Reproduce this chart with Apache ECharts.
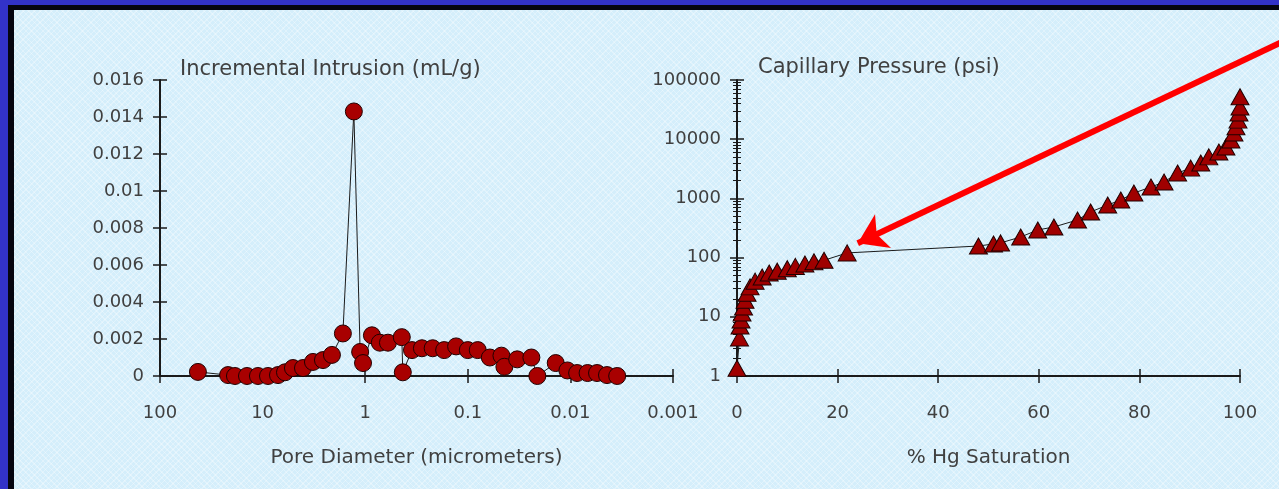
<!DOCTYPE html>
<html>
<head>
<meta charset="utf-8">
<script src="https://cdn.jsdelivr.net/npm/echarts@6/dist/echarts.min.js"></script>
<style>
	html, body { margin: 0; padding: 0; width: 1279px; height: 489px; overflow: hidden; background: #3232c8; }
	#frame {
		position: absolute; left: 8px; top: 5px; width: 1280px; height: 490px;
		box-sizing: border-box;
		border-left: 6px solid #050510; border-top: 5px solid #050510;
		background-color: #d4eefb;
		background-image:
			repeating-linear-gradient(45deg, rgba(255,255,255,0.3) 0 1px, transparent 1px 4px),
			repeating-linear-gradient(-45deg, rgba(255,255,255,0.3) 0 1px, transparent 1px 4px);
	}
	#main { position: absolute; left: 0; top: 0; width: 1279px; height: 489px; }
</style>
</head>
<body>
<div id="frame"></div>
<div id="main"></div>
<script>
	// 孔径分布 (左图)
	var poreDiameter = [42.7, 21.7, 18.6, 14.2, 11.1, 8.86, 7.08, 6.05, 5.06, 4.04, 3.23, 2.58, 2.11, 1.65,
		1.29, 1.12, 1.05, 0.86, 0.72, 0.60, 0.44, 0.43, 0.35, 0.28, 0.22, 0.17, 0.13, 0.10, 0.08,
		0.061, 0.047, 0.044, 0.033, 0.024, 0.021, 0.0139, 0.0107, 0.0086, 0.0068, 0.0055, 0.0044, 0.0035]
	var incrementalIntrusion = [0.00022, 0.00005, 0, 0, 0, 0, 0.00005, 0.0002, 0.00043, 0.00043, 0.00076,
		0.00086, 0.00114, 0.0023, 0.0143, 0.0013, 0.0007, 0.0022, 0.0018, 0.0018, 0.0021, 0.0002, 0.0014,
		0.0015, 0.0015, 0.0014, 0.0016, 0.0014, 0.0014, 0.001, 0.0011, 0.0005, 0.0009, 0.001, 0, 0.0007,
		0.0003, 0.00016, 0.00016, 0.00016, 0.00005, 0]

	// 毛管压力曲线 (右图)
	var hgSaturation = [0, 0.5, 0.6, 0.8, 1.0, 1.3, 1.6, 2.0, 2.6, 3.6, 5.0, 6.4, 8.0, 10, 11.6, 13.5, 15.3,
		17.3, 21.9, 48, 51, 52.4, 56.4, 59.8, 63, 67.7, 70.3, 73.7, 76.3, 78.9, 82.3, 84.9, 87.6, 90.2,
		92.2, 93.8, 95.8, 97.2, 98.2, 98.8, 99.2, 99.6, 99.8, 100, 100]
	var capillaryPressure = [1.35, 4.4, 7, 8.8, 11.6, 14.6, 19, 25, 32, 40, 47, 55, 59, 65, 71, 78, 85,
		90, 120, 157, 170, 177, 223, 293, 329, 432, 590, 774, 940, 1232, 1555, 1893, 2690, 3250,
		3970, 5030, 6070, 7390, 9700, 12700, 16200, 21000, 27700, 35000, 52000]

	// 箭头指向的点
	var arrowTarget = [24, 175]

	var box = document.getElementById('main')
	var myChart = echarts.init(box)

	var textColor = '#404040'
	var font = 'DejaVu Sans, sans-serif'
	var lineColor = '#1a1a1a'

	var leftData = poreDiameter.map(function(d, i) { return [d, incrementalIntrusion[i]] })
	var rightData = hgSaturation.map(function(s, i) { return [s, capillaryPressure[i]] })

	var logLabel = function(v) { return String(+(+v).toPrecision(3)) }

	// 主坐标轴: 轴线 + 向外刻度 + 标签
	function mainAxis(extra, labelMargin, formatter) {
		var a = {
			axisLine: { show: true, lineStyle: { color: lineColor, width: 2 } },
			axisTick: { show: true, inside: false, length: 7, lineStyle: { color: lineColor, width: 1.5 } },
			axisLabel: { color: textColor, fontFamily: font, fontSize: 18, margin: labelMargin },
			splitLine: { show: false },
			nameTextStyle: { color: textColor, fontFamily: font, fontSize: 20 }
		}
		if (formatter) a.axisLabel.formatter = formatter
		return Object.assign(a, extra)
	}
	// 副坐标轴: 只画向内刻度, 让刻度穿过轴线
	function tickAxis(extra) {
		return Object.assign({
			axisLine: { show: false },
			axisTick: { show: true, inside: true, length: 7, lineStyle: { color: lineColor, width: 1.5 } },
			axisLabel: { show: false },
			splitLine: { show: false }
		}, extra)
	}

	var minorOut = { show: true, splitNumber: 9, length: 4, lineStyle: { color: lineColor, width: 1 } }

	var option = {
		animation: false,
		title: [
			{ text: 'Incremental Intrusion (mL/g)', left: 180, top: 59, padding: 0,
				textStyle: { color: textColor, fontFamily: font, fontSize: 21, fontWeight: 'normal' } },
			{ text: 'Capillary Pressure (psi)', left: 758, top: 57, padding: 0,
				textStyle: { color: textColor, fontFamily: font, fontSize: 21, fontWeight: 'normal' } }
		],
		grid: [
			{ left: 160, right: 606, top: 80, bottom: 113, outerBoundsMode: 'none' },
			{ left: 737, right: 39, top: 80, bottom: 113, outerBoundsMode: 'none' }
		],
		xAxis: [
			mainAxis({ type: 'log', gridIndex: 0, logBase: 10, min: 0.001, max: 100, inverse: true, position: 'bottom',
				name: 'Pore Diameter (micrometers)', nameLocation: 'middle', nameGap: 72 }, 28, logLabel),
			mainAxis({ type: 'value', gridIndex: 1, min: 0, max: 100, interval: 20, position: 'bottom',
				name: '% Hg Saturation', nameLocation: 'middle', nameGap: 72 }, 28),
			tickAxis({ type: 'log', gridIndex: 0, logBase: 10, min: 0.001, max: 100, inverse: true, position: 'bottom' }),
			tickAxis({ type: 'value', gridIndex: 1, min: 0, max: 100, interval: 20, position: 'bottom' })
		],
		yAxis: [
			mainAxis({ type: 'value', gridIndex: 0, min: 0, max: 0.016, interval: 0.002, position: 'left' }, 16,
				function(v) { return String(+v.toFixed(3)) }),
			mainAxis({ type: 'log', gridIndex: 1, logBase: 10, min: 1, max: 100000, position: 'left',
				minorTick: minorOut }, 16, function(v) { return String(Math.round(v)) }),
			tickAxis({ type: 'value', gridIndex: 0, min: 0, max: 0.016, interval: 0.002, position: 'left' }),
			tickAxis({ type: 'log', gridIndex: 1, logBase: 10, min: 1, max: 100000, position: 'left',
				minorTick: { show: true, splitNumber: 9, length: 4, lineStyle: { color: lineColor, width: 1 } } })
		],
		series: [
			{
				name: 'Incremental Intrusion',
				type: 'line', xAxisIndex: 0, yAxisIndex: 0,
				data: leftData,
				symbol: 'circle', symbolSize: 17,
				itemStyle: { color: '#a80000', borderColor: '#200000', borderWidth: 1 },
				lineStyle: { color: lineColor, width: 1 },
				clip: false
			},
			{
				name: 'Capillary Pressure',
				type: 'line', xAxisIndex: 1, yAxisIndex: 1,
				data: rightData,
				symbol: 'triangle', symbolSize: [18, 16],
				itemStyle: { color: '#a00000', borderColor: '#200000', borderWidth: 1 },
				lineStyle: { color: lineColor, width: 1 },
				clip: false,
				markLine: {
					silent: true,
					symbol: ['none', 'arrow'],
					symbolSize: 28,
					label: { show: false },
					lineStyle: { color: '#ff0000', width: 6, type: 'solid' },
					data: [[{ x: 1282, y: 42 }, { coord: arrowTarget }]]
				}
			}
		]
	}

	myChart.setOption(option)
</script>
</body>
</html>
